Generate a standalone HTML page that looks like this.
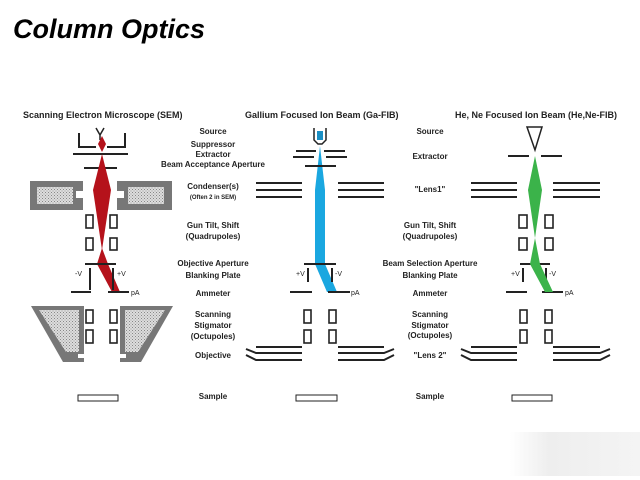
<!DOCTYPE html>
<html><head><meta charset="utf-8"><style>
body{margin:0;background:#fff;width:640px;height:480px;overflow:hidden}
svg{display:block}
text{font-family:"Liberation Sans",sans-serif;font-weight:bold;fill:#222}
.l{font-size:8px;text-anchor:middle}
.t{font-size:9px}
</style></head><body>
<svg width="640" height="480" viewBox="0 0 640 480">
<defs>
<pattern id="h" width="3" height="3" patternUnits="userSpaceOnUse"><rect width="3" height="3" fill="#ddd"/><rect width="1" height="1" fill="#888"/><rect x="1.5" y="1.5" width="1" height="1" fill="#999"/></pattern>
<linearGradient id="g" x1="0" x2="1"><stop offset="0" stop-color="#fff"/><stop offset="0.3" stop-color="#eee"/><stop offset="1" stop-color="#f4f4f4"/></linearGradient>
</defs>
<text x="13" y="38" style="font-size:27px;font-style:italic;fill:#000">Column Optics</text>
<rect x="510" y="432" width="130" height="44" fill="url(#g)"/>

<!-- titles -->
<text class="t" x="23" y="118">Scanning Electron Microscope (SEM)</text>
<text class="t" x="245" y="118">Gallium Focused Ion Beam (Ga-FIB)</text>
<text class="t" x="455" y="118">He, Ne Focused Ion Beam (He,Ne-FIB)</text>

<!-- labels SEM column -->
<g class="l">
<text class="l" x="213" y="134">Source</text>
<text class="l" x="213" y="147">Suppressor</text>
<text class="l" x="213" y="157">Extractor</text>
<text class="l" x="213" y="167">Beam Acceptance Aperture</text>
<text class="l" x="213" y="189">Condenser(s)</text>
<text class="l" x="213" y="199" style="font-size:6px">(Often 2 in SEM)</text>
<text class="l" x="213" y="228">Gun Tilt, Shift</text>
<text class="l" x="213" y="239">(Quadrupoles)</text>
<text class="l" x="213" y="266">Objective Aperture</text>
<text class="l" x="213" y="278">Blanking Plate</text>
<text class="l" x="213" y="296">Ammeter</text>
<text class="l" x="213" y="317">Scanning</text>
<text class="l" x="213" y="328">Stigmator</text>
<text class="l" x="213" y="339">(Octupoles)</text>
<text class="l" x="213" y="358">Objective</text>
<text class="l" x="213" y="399">Sample</text>

<text class="l" x="430" y="134">Source</text>
<text class="l" x="430" y="159">Extractor</text>
<text class="l" x="430" y="192">"Lens1"</text>
<text class="l" x="430" y="228">Gun Tilt, Shift</text>
<text class="l" x="430" y="239">(Quadrupoles)</text>
<text class="l" x="430" y="266">Beam Selection Aperture</text>
<text class="l" x="430" y="278">Blanking Plate</text>
<text class="l" x="430" y="296">Ammeter</text>
<text class="l" x="430" y="317">Scanning</text>
<text class="l" x="430" y="328">Stigmator</text>
<text class="l" x="430" y="338">(Octupoles)</text>
<text class="l" x="430" y="358">"Lens 2"</text>
<text class="l" x="430" y="399">Sample</text>
</g>

<g stroke="#222" fill="none" stroke-width="2">
<!-- SEM -->
<path d="M96,128 L100,135 L104,128 M100,135 V140" stroke-width="1.5"/>
<path d="M79,133 V147 H96 M107,147 H125 V133"/>
<path d="M73,154 H128"/>
<path d="M84,168 H117"/>
</g>
<!-- condensers -->
<path d="M30,181 H83 V191 H76 V198 H83 V210 H30 Z" fill="#777"/>
<rect x="37" y="187" width="36" height="17" fill="url(#h)"/>
<path d="M117,181 H172 V210 H117 V198 H124 V191 H117 Z" fill="#777"/>
<rect x="128" y="187" width="36" height="17" fill="url(#h)"/>
<!-- objective SEM -->
<path d="M31,306 H84 V354 H78 V358 H84 V362 H63 Z" fill="#777"/>
<path d="M39,310 H79 V352 H66 Z" fill="url(#h)"/>
<path d="M173,306 H120 V354 H126 V358 H120 V362 H141 Z" fill="#777"/>
<path d="M165,310 H125 V352 H138 Z" fill="url(#h)"/>
<!-- red beam -->
<path d="M102,136 L106,144 L102,152 L98,144 Z" fill="#b5121b"/>
<path d="M102,154 L111,190 L102,250 L93,190 Z" fill="#b5121b"/>
<path d="M102,248 L108,264 L120,292 L112,292 L97,264 Z" fill="#b5121b"/>
<g stroke="#222" fill="none" stroke-width="1.6">
<rect x="86" y="215" width="7" height="13"/><rect x="110" y="215" width="7" height="13"/>
<rect x="86" y="238" width="7" height="12"/><rect x="110" y="238" width="7" height="12"/>
<rect x="86" y="310" width="7" height="13"/><rect x="110" y="310" width="7" height="13"/>
<rect x="86" y="330" width="7" height="13"/><rect x="110" y="330" width="7" height="13"/>
<rect x="78" y="395" width="40" height="6" stroke-width="1"/>
</g>
<g stroke="#222" stroke-width="2">
<path d="M85,264 H116"/>
<path d="M90,268 V290 M113,268 V290"/>
<path d="M71,292 H91 M108,292 H129"/>
</g>
<text x="75" y="276" style="font-size:7px;font-weight:normal">-V</text>
<text x="117" y="276" style="font-size:7px;font-weight:normal">+V</text>
<text x="131" y="295" style="font-size:7px;font-weight:normal">pA</text>

<!-- Ga -->
<path d="M314,128 V140 L318,144 H322 L326,140 V128" stroke="#222" stroke-width="1.5" fill="none"/>
<rect x="317" y="131" width="6" height="9" fill="#1a8fc4"/>
<path d="M320,146 L325,190 L325,264 L337,292 L327,292 L315,264 L315,190 Z" fill="#1aa7e0"/>
<g stroke="#222" stroke-width="2" fill="none">
<path d="M296,151 H316 M324,151 H345"/>
<path d="M293,157 H314 M326,157 H347"/>
<path d="M305,166 H336"/>
<path d="M256,183 H302 M256,190 H302 M256,197 H302 M338,183 H384 M338,190 H384 M338,197 H384"/>
<path d="M304,264 H336"/>
<path d="M308,268 V282 M332,268 V282"/>
<path d="M290,292 H312 M328,292 H350"/>
<path d="M256,347 H302 M246,349 L256,353 H302 M246,355 L256,360 H302"/>
<path d="M338,347 H384 M394,349 L384,353 H338 M394,355 L384,360 H338"/>
<path d="M471,183 H517 M471,190 H517 M471,197 H517 M553,183 H600 M553,190 H600 M553,197 H600"/>
<path d="M508,156 H529 M541,156 H562"/>
<path d="M520,264 H550"/>
<path d="M523,268 V282 M546,268 V282"/>
<path d="M506,292 H527 M542,292 H563"/>
<path d="M471,347 H517 M461,349 L471,353 H517 M461,355 L471,360 H517"/>
<path d="M553,347 H600 M610,349 L600,353 H553 M610,355 L600,360 H553"/>
</g>
<g stroke="#222" fill="none" stroke-width="1.6">
<rect x="304" y="310" width="7" height="13"/><rect x="329" y="310" width="7" height="13"/>
<rect x="304" y="330" width="7" height="13"/><rect x="329" y="330" width="7" height="13"/>
<rect x="296" y="395" width="41" height="6" stroke-width="1"/>
<rect x="519" y="215" width="8" height="13"/><rect x="545" y="215" width="8" height="13"/>
<rect x="519" y="238" width="8" height="12"/><rect x="545" y="238" width="8" height="12"/>
<rect x="520" y="310" width="7" height="13"/><rect x="545" y="310" width="7" height="13"/>
<rect x="520" y="330" width="7" height="13"/><rect x="545" y="330" width="7" height="13"/>
<rect x="512" y="395" width="40" height="6" stroke-width="1"/>
<path d="M527,127 H542 L535,150 Z" stroke-width="1.5"/>
</g>
<text x="296" y="276" style="font-size:7px;font-weight:normal">+V</text>
<text x="335" y="276" style="font-size:7px;font-weight:normal">-V</text>
<text x="351" y="295" style="font-size:7px;font-weight:normal">pA</text>
<text x="511" y="276" style="font-size:7px;font-weight:normal">+V</text>
<text x="549" y="276" style="font-size:7px;font-weight:normal">-V</text>
<text x="565" y="295" style="font-size:7px;font-weight:normal">pA</text>
<!-- green beam -->
<path d="M535,156 L542,190 L535,238 L528,190 Z" fill="#3bb34a"/>
<path d="M535,238 L540,264 L553,292 L545,292 L530,264 Z" fill="#3bb34a"/>
</svg>
</body></html>
